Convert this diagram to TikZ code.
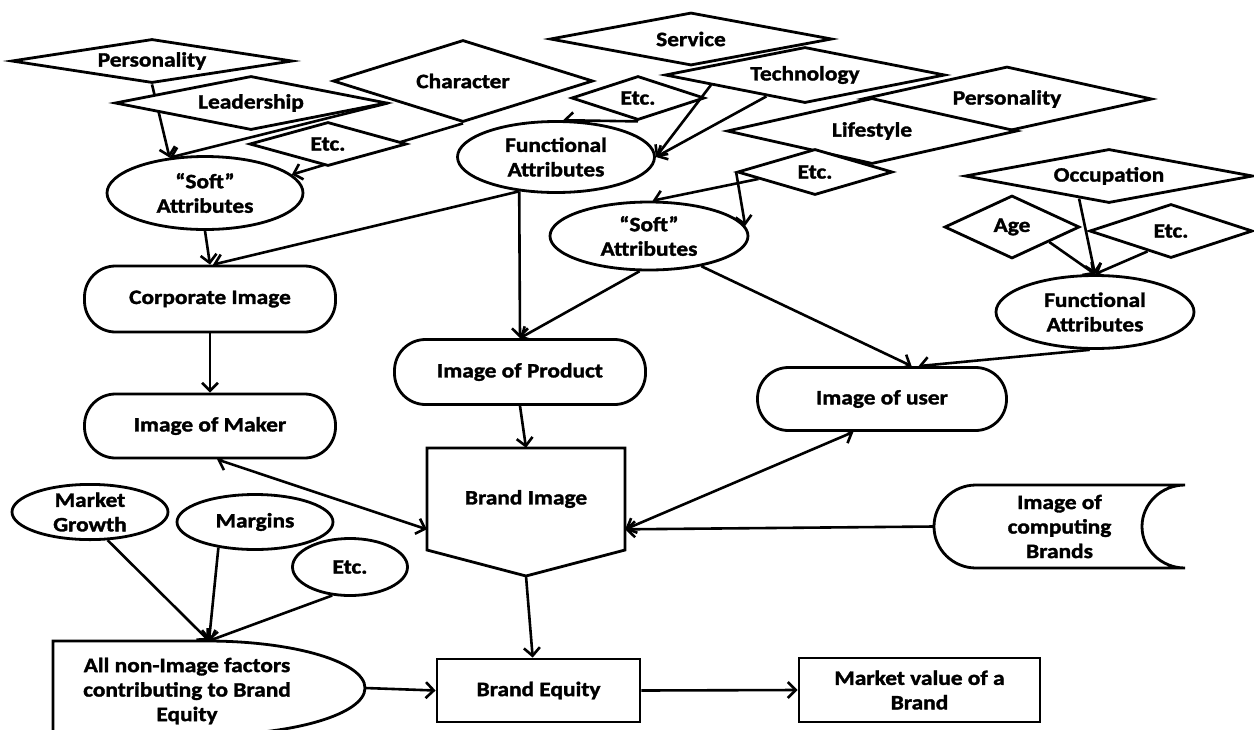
\documentclass[tikz,border=0pt]{standalone}
\usepackage{fontspec}
\setmainfont{Carlito}[FakeStretch=1.14,FakeBold=1.6]
\usetikzlibrary{shapes.geometric,arrows.meta}
\pgfdeclarelayer{bg}
\pgfsetlayers{bg,main}
\begin{document}
\begin{tikzpicture}[x=1pt,y=-1pt,
  every node/.style={font=\bfseries\fontsize{20.5}{24.5}\selectfont, align=center},
  shp/.style={draw, fill=white, line width=2.8pt, inner sep=0pt},
  dia/.style={shp, diamond, aspect=5},
  ell/.style={shp, ellipse},
  stad/.style={shp, rectangle, rounded corners=31pt},
  box/.style={shp, rectangle},
  ghost/.style={rectangle, inner sep=0pt, draw=none},
  arr/.style={line width=2.6pt, -{Straight Barb[length=8pt,width=16pt]}},
  darr/.style={line width=2.6pt, {Straight Barb[length=8pt,width=16pt]}-{Straight Barb[length=8pt,width=16pt]}}]
\begin{pgfonlayer}{bg}
\fill[white] (0,0) rectangle (1254,729);
\end{pgfonlayer}
\useasboundingbox (0,0) rectangle (1254,729);

% diamonds
\node[dia, minimum width=281pt, minimum height=44pt] (per1) at (152,61) {Personality};
\node[dia, minimum width=272pt, minimum height=54pt] (lead) at (251,103) {Leadership};
\node[dia, minimum width=260pt, minimum height=82pt] (chr) at (463,81) {Character};
\node[dia, minimum width=157pt, minimum height=44pt] (etc1) at (328,144) {Etc.};
\node[dia, minimum width=282pt, minimum height=53pt] (serv) at (691,39) {Service};
\node[dia, minimum width=280pt, minimum height=56pt] (tech) at (805,75) {Technology};
\node[dia, minimum width=133pt, minimum height=44pt] (etc2) at (638,98) {Etc.};
\node[dia, minimum width=290pt, minimum height=65pt] (per2) at (1007,99) {Personality};
\node[dia, minimum width=290pt, minimum height=66pt] (life) at (872,131) {Lifestyle};
\node[dia, minimum width=155pt, minimum height=46pt] (etc3) at (815,172) {Etc.};
\node[dia, minimum width=288pt, minimum height=54pt] (occ) at (1109,176) {Occupation};
\node[dia, minimum width=135pt, minimum height=63pt] (age) at (1012,227) {Age};
\node[dia, minimum width=163pt, minimum height=54pt] (etc4) at (1171,231) {Etc.};

% ellipses
\node[ell, minimum width=196pt, minimum height=73pt] (soft1) at (205,193) {“Soft”\\Attributes};
\node[ell, minimum width=197pt, minimum height=71pt] (func1) at (556,157) {Functional\\Attributes};
\node[ell, minimum width=198pt, minimum height=68pt] (soft2) at (649,236) {“Soft”\\Attributes};
\node[ell, minimum width=198pt, minimum height=73pt] (func2) at (1095,312) {Functional\\Attributes};
\node[ell, minimum width=156pt, minimum height=55pt] (mg) at (90,512) {Market\\Growth};
\node[ell, minimum width=156pt, minimum height=55pt] (marg) at (255,522) {Margins};
\node[ell, minimum width=115pt, minimum height=57pt] (etc5) at (350,567) {Etc.};

% stadiums
\node[stad, minimum width=251pt, minimum height=66pt] (corp) at (210,299) {Corporate Image};
\node[stad, minimum width=251pt, minimum height=64pt] (maker) at (210,426) {Image of Maker};
\node[stad, minimum width=251pt, minimum height=65pt] (prod) at (520,372) {Image of Product};
\node[stad, minimum width=249pt, minimum height=63pt] (user) at (882,399) {Image of user};

% brand image (pentagon)
\path[shp] (427,448) -- (625,448) -- (625,550) -- (526,576) -- (427,550) -- cycle;
\node[ghost, minimum width=198pt, minimum height=102pt] (bimg) at (526,499) {Brand Image};
\coordinate (bimgtip) at (526,576);

% image of computing brands
\path[shp] (976,485) -- (1185,485) arc[start angle=90,end angle=270,x radius=43pt,y radius=41.5pt]
  -- (976,568) arc[start angle=270,end angle=90,x radius=42pt,y radius=41.5pt] -- cycle;
\node[ghost, minimum width=251pt, minimum height=83pt] (comp) at (1059.5,526.5) {Image of\\computing\\Brands};

% all non-image factors
\path[shp] (53,735) -- (53,641) -- (207,641) arc[start angle=90,end angle=-90,x radius=158pt,y radius=47pt] -- cycle;
\node[ghost, minimum width=312pt, minimum height=94pt] (ani) at (209,688) {};
\node (aniT) at (187,691) {All non-Image factors\\contributing to Brand\\Equity};

% boxes
\node[box, minimum width=203pt, minimum height=63pt] (equity) at (538.5,690.5) {Brand Equity};
\node[box, minimum width=241pt, minimum height=64pt] (mval) at (919.5,690) {Market value of a\\Brand};

\begin{pgfonlayer}{bg}
\draw[arr] (per1.south) -- (soft1.135);
\draw[arr] (lead.east) -- (soft1.135);
\draw[arr] (chr.south) -- (soft1.12);
\draw[arr] (soft1.south) -- (corp.north);
\draw[arr] (func1.-137) -- (corp.85);
\draw[arr] (func1.-137) -- (prod.north);
\draw[arr] (soft2.-105) -- (prod.north);
\draw[arr] (soft2.-30) -- (user.48);
\draw[arr] (func2.-98) -- (user.42);
\draw[arr] (corp.south) -- (maker.north);
\draw[arr] (prod.south) -- (bimg.north);
\draw[darr] (maker.-78) -- (bimg.197);
\draw[darr] (user.-131) -- (bimg.-17);
\draw[arr] (comp.west) -- (bimg.-17);
\draw[arr] (mg.-58) -- (ani.north);
\draw[arr] (marg.-145) -- (ani.north);
\draw[arr] (etc5.-122) -- (ani.north);
\draw[arr] (ani.east) -- (equity.west);
\draw[arr] (bimgtip) -- (equity.100);
\draw[arr] (equity.east) -- (mval.west);
\draw[arr] (etc2.south) -- (func1.79);
\draw[arr] (tech.186) -- (func1.east);
\draw[arr] (tech.209) -- (func1.east);
\draw[arr] (etc3.west) -- (soft2.6);
\draw[arr] (etc3.187) -- (soft2.84);
\draw[arr] (occ.217) -- (func2.north);
\draw[arr] (age.-22) -- (func2.north);
\draw[arr] (etc4.221) -- (func2.north);
\end{pgfonlayer}
\end{tikzpicture}
\end{document}
